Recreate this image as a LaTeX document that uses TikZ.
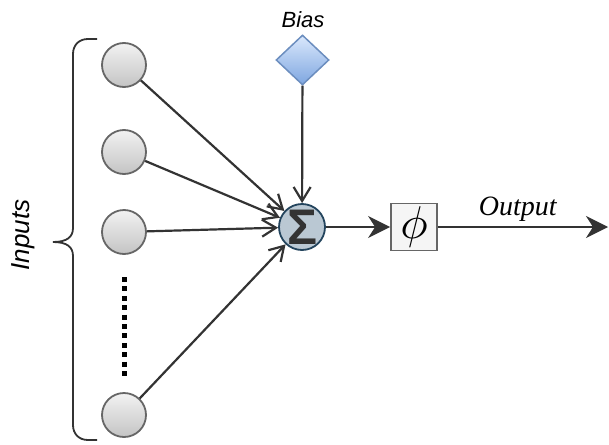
\documentclass[tikz,border=0pt]{standalone}
\usepackage{fontspec}
\setmainfont{Liberation Sans}
\newfontfamily\outfont{Liberation Serif}
\usepackage{graphicx}
\usepackage{xcolor}
\usepackage{tikz}
\usetikzlibrary{arrows.meta}
\usetikzlibrary{shapes.geometric}
\definecolor{inborder}{HTML}{666666}
\definecolor{intop}{HTML}{F2F2F2}
\definecolor{inbottom}{HTML}{C4C4C4}
\definecolor{biasborder}{HTML}{6C8EBF}
\definecolor{biastop}{HTML}{DAE8FC}
\definecolor{biasbottom}{HTML}{7EA6E0}
\definecolor{sumfill}{HTML}{BAC8D3}
\definecolor{sumborder}{HTML}{23445D}
\definecolor{actfill}{HTML}{F5F5F5}
\definecolor{wire}{HTML}{333333}
\newcommand{\labelsize}{\fontsize{22}{26}\selectfont}

\begin{document}
\begin{tikzpicture}[x=1pt, y=-1pt, inner sep=0pt, line width=2.2pt,
      inputnode/.style={circle, draw=inborder, line width=1.8pt,
        minimum size=44pt, top color=intop, bottom color=inbottom},
      inarrow/.style={draw=wire, -{Straight Barb[length=14pt, width=17pt]}},
      outarrow/.style={draw=wire, -{Stealth[length=22pt, width=22pt, inset=7pt]}}]
    \useasboundingbox (0,0) rectangle (609,444);
    % inputs
    \foreach \i/\y in { 1/65, 2/152, 3/232, 4/415 }{
      \node[inputnode] (in\i) at (124,\y) {};
    }
    \draw[line width=5pt, dash pattern=on 5pt off 4.4pt] (124,277) -- (124,378);
    % brace and label
    \draw[draw=wire, line width=1.8pt]
      (97,39) -- (88,39) .. controls (79,39) and (73,45) .. (73,54)
      -- (73,228) .. controls (73,237) and (67,242) .. (53,242)
      .. controls (67,242) and (73,247) .. (73,256)
      -- (73,425) .. controls (73,434) and (79,440) .. (88,440) -- (97,440);
    \node[rotate=90, font=\fontsize{26}{30}\selectfont\itshape] (inputs) at (23,235) {Inputs};
    % bias
    \node[diamond, aspect=1.06, minimum width=53pt, minimum height=50pt,
      draw=biasborder, line width=1.5pt, top color=biastop, bottom color=biasbottom]
      (bias) at (302.5,60) {};
    \node[font=\labelsize\itshape] (biaslabel) at (303,20) {Bias};
    % summation and activation
    \node[circle, minimum size=46pt, fill=sumfill, draw=sumborder, line width=1.8pt,
      font=\fontsize{50}{52}\selectfont\bfseries, text=wire]
      (sum) at (302,227) {Σ};
    \node[rectangle, minimum width=46pt, minimum height=47pt, fill=actfill,
      draw=inborder, line width=1.8pt]
      (act) at (414,227) {\scalebox{4.6}{$\phi$}};
    \coordinate (out) at (608,227);
    % connectors
    \foreach \i in {1,...,4}{
      \draw[inarrow] (in\i) -- (sum);
    }
    \draw[inarrow] (bias) -- (sum);
    \draw[outarrow] (sum) -- (act);
    \draw[outarrow] (act) -- (out)
      node[pos=0.47, above=4pt, font=\outfont\fontsize{28}{30}\selectfont\itshape] {Output};
  \end{tikzpicture}
\end{document}
